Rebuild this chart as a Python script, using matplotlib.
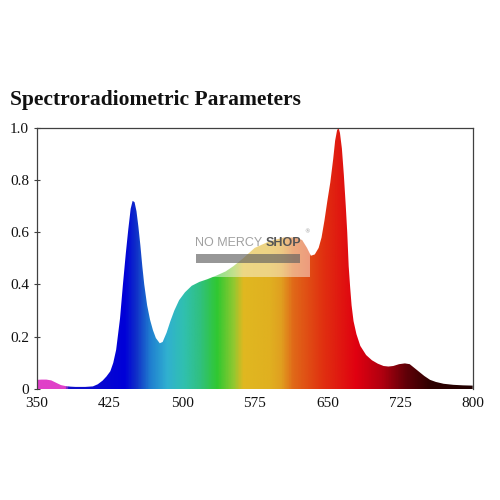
import numpy as np
import matplotlib
matplotlib.use("Agg")
import matplotlib.pyplot as plt
from matplotlib.colors import LinearSegmentedColormap
from matplotlib.patches import Rectangle

# ---- data ----
wavelength = [350, 355, 360, 365, 370, 375, 380, 385, 390, 400, 408, 413, 418, 422,
              426, 429, 432, 436, 439, 442, 444.5, 447, 449, 451, 453, 455, 457,
              459, 461, 464, 467, 470, 473, 477, 480, 484, 488, 492, 497, 503, 510,
              518, 526, 536, 545, 553, 563, 575, 590, 605, 617, 624, 629, 633, 637,
              641, 644, 647, 650, 653, 656, 658, 660, 661.5, 663, 665, 667, 669,
              670.5, 672, 673.5, 675, 677, 680, 684, 690, 696, 702, 708, 713, 718,
              724, 730, 735, 740, 745, 750, 756, 762, 770, 780, 790, 800]
intensity = [0.035, 0.036, 0.036, 0.033, 0.024, 0.015, 0.011, 0.009, 0.008, 0.008,
             0.010, 0.018, 0.032, 0.048, 0.068, 0.10, 0.15, 0.27, 0.40, 0.52, 0.61,
             0.69, 0.72, 0.715, 0.68, 0.62, 0.55, 0.47, 0.40, 0.32, 0.265, 0.225,
             0.195, 0.175, 0.18, 0.215, 0.26, 0.30, 0.34, 0.37, 0.395, 0.41, 0.42,
             0.435, 0.45, 0.47, 0.50, 0.54, 0.565, 0.58, 0.58, 0.57, 0.54, 0.51,
             0.515, 0.54, 0.58, 0.645, 0.72, 0.79, 0.88, 0.95, 0.99, 1.0, 0.98,
             0.92, 0.82, 0.70, 0.60, 0.47, 0.39, 0.32, 0.26, 0.21, 0.165, 0.13,
             0.11, 0.097, 0.088, 0.086, 0.088, 0.095, 0.098, 0.095, 0.08, 0.065,
             0.05, 0.035, 0.027, 0.02, 0.016, 0.014, 0.013]
x_ticks = [350, 425, 500, 575, 650, 725, 800]
y_ticks = [0, 0.2, 0.4, 0.6, 0.8, 1.0]
y_tick_labels = ["0", "0.2", "0.4", "0.6", "0.8", "1.0"]
title = "Spectroradiometric Parameters"

# ---- colour stops of the spectrum gradient (style) ----
stop_nm = [350, 378, 382, 440, 452, 467, 484, 501, 518, 536, 553, 563, 590, 602,
           615, 646, 680, 707, 732, 756, 800]
stop_col = ["#e040c8", "#e040c8", "#1010c8", "#0000d8", "#1030c8", "#2080d0",
            "#30b0d0", "#30c0b0", "#30c080", "#30c830", "#90c830", "#e0b820",
            "#e0b020", "#e0a020", "#e06818", "#e03010", "#e00010", "#b00010",
            "#600008", "#300000", "#200000"]
pos = [(v - 350) / 450 for v in stop_nm]
cmap = LinearSegmentedColormap.from_list("spec", list(zip(pos, stop_col)))

fig = plt.figure(figsize=(5, 5), dpi=100)
ax = fig.add_axes([0.0734, 0.222, 0.872, 0.5226])

poly = ax.fill_between(wavelength, 0, intensity, color="none", lw=0)
grad = np.linspace(0, 1, 900).reshape(1, -1)
im = ax.imshow(grad, cmap=cmap, aspect="auto", extent=(350, 800, 0, 1),
               origin="lower", zorder=2)
path = poly.get_paths()[0]
im.set_clip_path(path, transform=ax.transData)

ax.set_xlim(350, 800)
ax.set_ylim(0, 1.0)
ax.set_xticks(x_ticks)
ax.set_xticklabels([str(t) for t in x_ticks])
ax.set_yticks(y_ticks)
ax.set_yticklabels(y_tick_labels)
for lab in ax.get_xticklabels() + ax.get_yticklabels():
    lab.set_fontfamily("Liberation Serif")
    lab.set_fontsize(11)
    lab.set_color("#111111")
ax.tick_params(axis="x", length=0, pad=6)
ax.tick_params(axis="y", direction="inout", length=5, width=0.8, pad=3,
               color="#404040")
for s in ["left", "right", "top", "bottom"]:
    ax.spines[s].set_color("#404040")
    ax.spines[s].set_linewidth(0.9)
ax.spines["bottom"].set_visible(False)

fig.text(0.02, 0.801, title, fontfamily="Liberation Serif", fontweight="bold",
         fontsize=15.5, color="#111111", ha="left", va="center")

# ---- watermark ----
fig.patches.append(Rectangle((193 / 500, 1 - 277 / 500), 117 / 500, 40 / 500,
                             transform=fig.transFigure, facecolor="white",
                             alpha=0.45, edgecolor="none", zorder=5))
fig.patches.append(Rectangle((196 / 500, 1 - 263 / 500), 104 / 500, 9 / 500,
                             transform=fig.transFigure, facecolor="#606060",
                             alpha=0.65, edgecolor="none", zorder=6))
fig.text(195 / 500, 1 - 243 / 500, "NO MERCY", fontfamily="Liberation Sans",
         fontsize=9, color="#a0a0a0", ha="left", va="center", zorder=7)
fig.text(301 / 500, 1 - 243 / 500, "SHOP", fontfamily="Liberation Sans",
         fontweight="bold", fontsize=9, color="#555555", ha="right", va="center",
         zorder=7)
fig.text(304 / 500, 1 - 232 / 500, "®", fontsize=4, color="#999999", ha="left",
         va="center", zorder=7)

fig.savefig("out.png", dpi=100, facecolor="white")
